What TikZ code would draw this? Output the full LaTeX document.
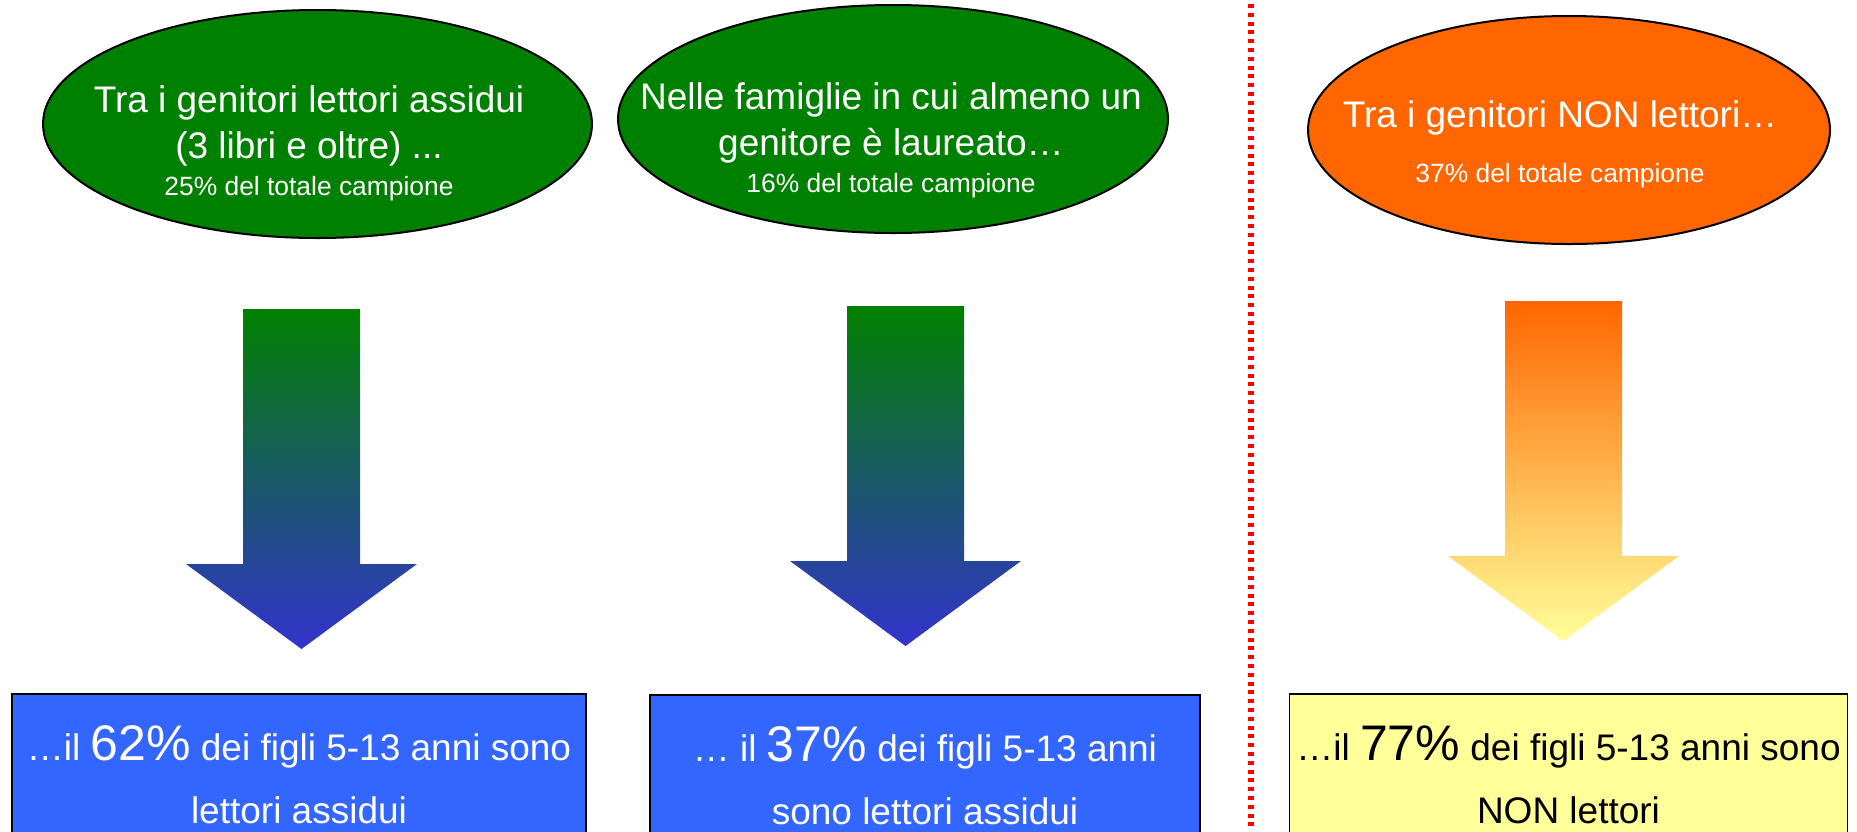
\documentclass[tikz,border=0pt]{standalone}
\usepackage{fontspec}
\setmainfont{Liberation Sans}
\usetikzlibrary{shapes.geometric}
\definecolor{leafgreen}{RGB}{0,128,0}
\definecolor{flame}{RGB}{255,102,0}
\definecolor{deepblue}{RGB}{51,51,204}
\definecolor{skyblue}{RGB}{51,102,255}
\definecolor{paleyellow}{RGB}{255,255,153}
\begin{document}
\begin{tikzpicture}[x=0.5pt,y=-0.5pt,
  bubble/.style={ellipse,draw=black,line width=1pt,inner sep=0pt,minimum height=114pt},
  bubbletext/.style={text=white,align=center,inner sep=0pt,font=\fontsize{18.5}{23}\selectfont},
  resultbox/.style={rectangle,draw=black,line width=0.75pt,align=center,minimum height=81pt,
    font=\fontsize{18.5}{31.5}\selectfont},
  separator/.style={red,line width=2.6pt,dash pattern=on 2pt off 2.4pt}]
\path[use as bounding box,clip] (0,0) rectangle (1857,831);
\pgfmathsetmacro{\shaftw}{117}
\pgfmathsetmacro{\shafth}{255}
\pgfmathsetmacro{\headw}{57}
\pgfmathsetmacro{\headh}{85}

\node[bubble,fill=leafgreen,minimum width=274.5pt] (readers) at (317.5,124) {};
\node[bubbletext] (readers-text) at (309,143.5) {Tra i genitori lettori assidui\\(3 libri e oltre) ...\\[-4.5pt]{\fontsize{13.2}{16}\selectfont 25\% del totale campione}};
\node[bubble,fill=leafgreen,minimum width=275pt] (graduates) at (893,119) {};
\node[bubbletext] (graduates-text) at (891,140) {Nelle famiglie in cui almeno un\\genitore è laureato…\\[-4.5pt]{\fontsize{13.2}{16}\selectfont 16\% del totale campione}};
\node[bubble,fill=flame,minimum width=261pt] (nonreaders) at (1569,130) {};
\node[bubbletext] (nonreaders-text) at (1560,144) {Tra i genitori NON lettori…\\[4.5pt]{\fontsize{13.2}{16}\selectfont 37\% del totale campione}};

\shade[top color=leafgreen,bottom color=deepblue] (243,309) -- ++(\shaftw,0) -- ++(0,\shafth) -- ++(\headw,0) -- ++(-\headw-\shaftw/2,\headh) -- ++(-\headw-\shaftw/2,-\headh) -- ++(\headw,0) -- cycle;
\shade[top color=leafgreen,bottom color=deepblue] (847,306) -- ++(\shaftw,0) -- ++(0,\shafth) -- ++(\headw,0) -- ++(-\headw-\shaftw/2,\headh) -- ++(-\headw-\shaftw/2,-\headh) -- ++(\headw,0) -- cycle;
\shade[top color=flame,bottom color=paleyellow] (1505,301) -- ++(\shaftw,0) -- ++(0,\shafth) -- ++(\headw,0) -- ++(-\headw-\shaftw/2,\headh) -- ++(-\headw-\shaftw/2,-\headh) -- ++(\headw,0) -- cycle;

\node[resultbox,fill=skyblue,text=white,minimum width=287pt] (readers-kids) at (299,775) {…il {\fontsize{25}{30}\selectfont 62\%} dei figli 5-13 anni sono\\lettori assidui};
\node[resultbox,fill=skyblue,text=white,minimum width=275pt] (graduates-kids) at (925,776) {… il {\fontsize{25}{30}\selectfont 37\%} dei figli 5-13 anni\\sono lettori assidui};
\node[resultbox,fill=paleyellow,text=black,minimum width=274.5pt] (nonreaders-kids) at (1568.5,775) {…il {\fontsize{25}{30}\selectfont 77\%} dei figli 5-13 anni sono\\NON lettori};

\draw[separator] (1251,4) -- (1251,831);
\end{tikzpicture}
\end{document}
